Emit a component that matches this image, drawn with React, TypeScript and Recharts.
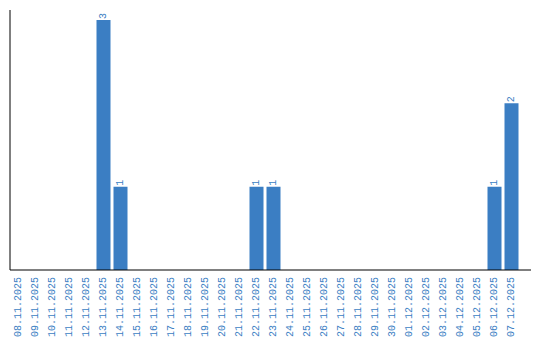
import { Bar, BarChart, LabelList, XAxis, YAxis } from "recharts";

const dates = [
  "08.11.2025", "09.11.2025", "10.11.2025", "11.11.2025", "12.11.2025",
  "13.11.2025", "14.11.2025", "15.11.2025", "16.11.2025", "17.11.2025",
  "18.11.2025", "19.11.2025", "20.11.2025", "21.11.2025", "22.11.2025",
  "23.11.2025", "24.11.2025", "25.11.2025", "26.11.2025", "27.11.2025",
  "28.11.2025", "29.11.2025", "30.11.2025", "01.12.2025", "02.12.2025",
  "03.12.2025", "04.12.2025", "05.12.2025", "06.12.2025", "07.12.2025",
];

const counts = [
  0, 0, 0, 0, 0, 3, 1, 0, 0, 0, 0, 0, 0, 0, 1,
  1, 0, 0, 0, 0, 0, 0, 0, 0, 0, 0, 0, 0, 1, 2,
];

const BLUE = "#3b7ec3";
const FONT = "'Liberation Mono', monospace";

const chartData = dates.map((date, i) => ({ date, count: counts[i] }));

function DateTick(props: any) {
  const { x, y, payload } = props;
  const ty = y - 1;
  return (
    <text
      x={x}
      y={ty}
      transform={`rotate(-90, ${x}, ${ty})`}
      textAnchor="end"
      dominantBaseline="central"
      fill={BLUE}
      fontSize={10}
      fontFamily={FONT}
    >
      {payload.value}
    </text>
  );
}

function ValueLabel(props: any) {
  const { x, y, width, value } = props;
  if (!value) return null;
  const cx = x + width / 2;
  const ty = y - 1;
  return (
    <text
      x={cx}
      y={ty}
      transform={`rotate(-90, ${cx}, ${ty})`}
      textAnchor="start"
      dominantBaseline="central"
      fill={BLUE}
      fontSize={10}
      fontFamily={FONT}
    >
      {value}
    </text>
  );
}

export default function App() {
  return (
    <div style={{ position: "fixed", left: 0, top: 0, background: "#fff" }}>
      <BarChart
        width={540}
        height={340}
        data={chartData}
        margin={{ top: 10, right: 9, bottom: 0, left: 9 }}
        barCategoryGap={1.5}
      >
        <XAxis
          dataKey="date"
          interval={0}
          height={70}
          padding={{ left: 0, right: 11 }}
          tickLine={false}
          axisLine={{ stroke: "#000" }}
          tick={<DateTick />}
        />
        <YAxis
          width={1}
          domain={[0, (max: number) => max * 1.04]}
          tick={false}
          tickLine={false}
          axisLine={{ stroke: "#000" }}
        />
        <Bar dataKey="count" fill={BLUE} isAnimationActive={false}>
          <LabelList dataKey="count" content={<ValueLabel />} />
        </Bar>
      </BarChart>
    </div>
  );
}
